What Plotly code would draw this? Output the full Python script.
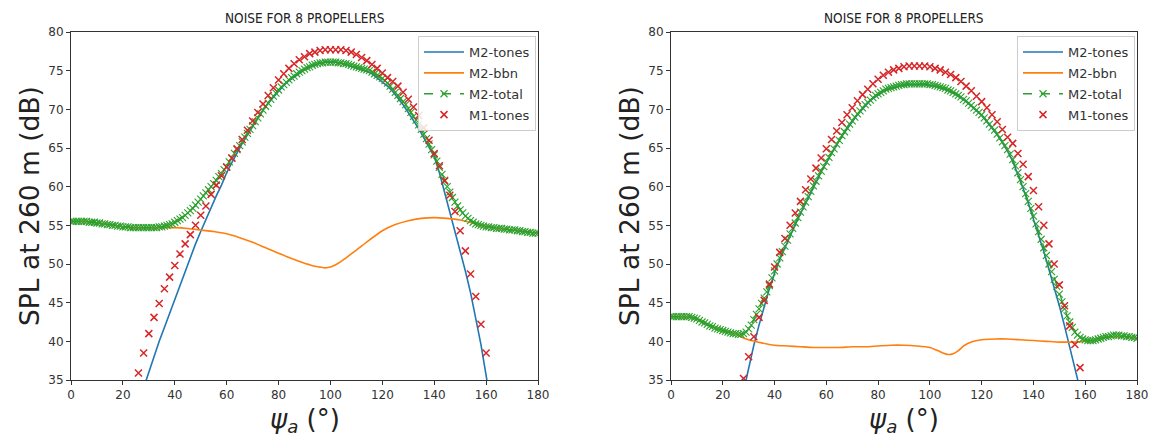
import plotly.graph_objects as go

# ---------------- data : left panel ----------------
ANG_TOTAL = list(range(0, 181))
L_TOTAL = [
    55.5, 55.5, 55.5, 55.5, 55.5, 55.5, 55.5, 55.4, 55.4, 55.4,
    55.3, 55.3, 55.2, 55.2, 55.1, 55.1, 55.0, 55.0, 54.9, 54.9,
    54.8, 54.8, 54.8, 54.7, 54.7, 54.7, 54.7, 54.7, 54.7, 54.7,
    54.7, 54.7, 54.7, 54.7, 54.8, 54.8, 54.9, 55.0, 55.1, 55.2,
    55.4, 55.6, 55.8, 56.0, 56.3, 56.6, 56.9, 57.2, 57.6, 58.0,
    58.4, 58.8, 59.2, 59.6, 60.0, 60.4, 60.8, 61.3, 61.7, 62.2,
    62.6, 63.2, 63.7, 64.3, 64.8, 65.3, 65.8, 66.4, 66.9, 67.4,
    67.9, 68.4, 68.9, 69.4, 69.9, 70.4, 70.8, 71.3, 71.7, 72.1,
    72.5, 72.9, 73.2, 73.5, 73.8, 74.1, 74.3, 74.6, 74.8, 75.0,
    75.2, 75.4, 75.5, 75.7, 75.8, 75.9, 76.0, 76.0, 76.1, 76.1,
    76.1, 76.1, 76.1, 76.0, 76.0, 75.9, 75.9, 75.8, 75.7, 75.6,
    75.5, 75.4, 75.3, 75.2, 75.1, 75.0, 74.8, 74.6, 74.4, 74.2,
    74.0, 73.7, 73.4, 73.0, 72.6, 72.2, 71.8, 71.4, 71.0, 70.6,
    70.1, 69.6, 69.1, 68.6, 68.0, 67.4, 66.8, 66.2, 65.5, 64.8,
    64.1, 63.3, 62.5, 61.6, 60.7, 60.0, 59.3, 58.6, 58.0, 57.5,
    57.0, 56.6, 56.2, 55.9, 55.6, 55.4, 55.2, 55.1, 55.0, 54.9,
    54.8, 54.8, 54.7, 54.7, 54.6, 54.6, 54.6, 54.5, 54.5, 54.4,
    54.4, 54.4, 54.3, 54.3, 54.2, 54.2, 54.1, 54.1, 54.0, 54.0, 54.0,
]

L_TONES_ANG = [28, 30, 32, 34, 36, 38, 40, 42, 44, 46, 48, 50, 52, 54, 56, 58,
               60, 62, 64, 66, 68, 70, 72, 74, 76, 78, 80, 82, 84, 86, 88, 90,
               92, 94, 96, 98, 100, 102, 104, 106, 108, 110, 112, 114, 116, 118,
               120, 122, 124, 126, 128, 130, 132, 134, 136, 138, 140, 142, 144,
               146, 148, 150, 152, 154, 156, 158, 160, 161]
L_TONES = [34.0, 36.1, 38.1, 40.0, 41.8, 43.6, 45.4, 47.3, 49.1, 50.9, 52.6, 54.2,
           55.8, 57.3, 58.8, 60.2, 61.8, 63.1, 64.4, 65.6, 66.7, 67.8, 68.9, 69.9,
           70.8, 71.6, 72.4, 73.1, 73.7, 74.2, 74.7, 75.1, 75.5, 75.8, 76.0, 76.1,
           76.1, 76.1, 76.0, 75.8, 75.6, 75.4, 75.2, 74.9, 74.6, 74.1, 73.6, 73.0,
           72.3, 71.5, 70.6, 69.6, 68.6, 67.5, 66.3, 65.0, 63.9, 61.8, 59.3, 56.6,
           54.1, 51.6, 49.1, 46.3, 43.1, 39.6, 35.6, 33.5]

L_BBN_ANG = [0, 5, 10, 15, 20, 25, 30, 35, 40, 45, 50, 55, 60, 65, 70, 75, 80, 85,
             90, 92, 94, 96, 98, 100, 102, 104, 106, 108, 110, 115, 120, 125, 130,
             135, 140, 145, 150, 155, 160, 165, 170, 175, 180]
L_BBN = [55.5, 55.5, 55.3, 55.1, 54.8, 54.7, 54.7, 54.7, 54.7, 54.6, 54.4, 54.2,
         53.9, 53.4, 52.8, 52.1, 51.4, 50.7, 50.1, 49.9, 49.7, 49.6, 49.5, 49.6,
         49.9, 50.3, 50.8, 51.3, 51.8, 53.1, 54.3, 55.1, 55.6, 55.9, 56.0, 55.9,
         55.7, 55.3, 54.9, 54.6, 54.4, 54.2, 54.0]

L_M1_ANG = list(range(26, 161, 2))
L_M1 = [35.9, 38.5, 41.0, 43.1, 44.9, 46.8, 48.3, 49.8, 51.3, 52.6, 53.8, 55.0,
        56.3, 57.5, 59.0, 60.2, 61.4, 62.5, 63.7, 64.9, 66.1, 67.3, 68.5, 69.6,
        70.7, 71.8, 72.8, 73.8, 74.6, 75.3, 75.9, 76.4, 76.8, 77.2, 77.4, 77.6,
        77.7, 77.7, 77.7, 77.7, 77.6, 77.4, 77.1, 76.7, 76.3, 75.8, 75.3, 74.7,
        74.1, 73.6, 73.0, 72.2, 71.3, 70.3, 69.2, 67.6, 66.0, 64.3, 62.7, 60.8,
        58.9, 56.8, 54.3, 51.7, 48.7, 45.8, 42.2, 38.5]

# ---------------- data : right panel ----------------
R_TOTAL = [
    43.2, 43.2, 43.2, 43.2, 43.2, 43.2, 43.2, 43.2, 43.1, 43.0,
    42.9, 42.7, 42.5, 42.4, 42.2, 42.0, 41.9, 41.7, 41.6, 41.5,
    41.4, 41.3, 41.2, 41.1, 41.0, 41.0, 40.9, 40.9, 41.0, 41.2,
    41.6, 42.1, 42.8, 43.5, 44.2, 44.9, 45.6, 46.4, 47.2, 48.2,
    49.1, 50.0, 50.8, 51.6, 52.3, 53.1, 53.9, 54.6, 55.3, 56.0,
    56.7, 57.4, 58.0, 58.7, 59.4, 60.1, 60.7, 61.4, 62.0, 62.6,
    63.2, 63.8, 64.4, 64.9, 65.5, 66.0, 66.6, 67.1, 67.6, 68.1,
    68.5, 69.0, 69.4, 69.8, 70.2, 70.6, 70.9, 71.2, 71.5, 71.8,
    72.0, 72.2, 72.4, 72.6, 72.7, 72.8, 72.9, 73.0, 73.1, 73.2,
    73.2, 73.3, 73.3, 73.3, 73.3, 73.3, 73.3, 73.3, 73.3, 73.3,
    73.2, 73.2, 73.1, 73.0, 72.9, 72.8, 72.7, 72.5, 72.4, 72.2,
    72.0, 71.8, 71.6, 71.3, 71.1, 70.8, 70.5, 70.2, 69.9, 69.6,
    69.3, 68.9, 68.5, 68.1, 67.7, 67.3, 66.8, 66.3, 65.8, 65.3,
    64.8, 64.2, 63.5, 62.7, 61.8, 60.9, 60.0, 59.1, 58.1, 57.2,
    56.2, 55.2, 54.2, 53.2, 52.1, 51.1, 50.0, 49.0, 48.0, 47.1,
    46.1, 45.1, 44.2, 43.3, 42.5, 41.8, 41.2, 40.8, 40.5, 40.3,
    40.2, 40.1, 40.1, 40.1, 40.2, 40.3, 40.4, 40.5, 40.6, 40.6,
    40.7, 40.8, 40.8, 40.8, 40.7, 40.7, 40.6, 40.6, 40.5, 40.5, 40.4,
]

R_TONES_ANG = [29, 30, 32, 34, 36, 38, 40, 42, 44, 46, 48, 50, 52, 54, 56, 58, 60,
               62, 64, 66, 68, 70, 72, 74, 76, 78, 80, 82, 84, 86, 88, 90, 92, 94,
               96, 98, 100, 102, 104, 106, 108, 110, 112, 114, 116, 118, 120, 122,
               124, 126, 128, 130, 132, 134, 136, 138, 140, 142, 144, 146, 148,
               150, 152, 154, 156, 158]
R_TONES = [35.0, 36.6, 39.5, 42.1, 44.6, 46.8, 48.8, 50.6, 52.1, 53.7, 55.1, 56.5,
           57.9, 59.3, 60.6, 61.9, 63.1, 64.3, 65.4, 66.5, 67.5, 68.4, 69.3, 70.1,
           70.8, 71.4, 71.9, 72.3, 72.6, 72.8, 73.0, 73.1, 73.2, 73.2, 73.2, 73.2,
           73.1, 73.0, 72.8, 72.6, 72.3, 71.9, 71.5, 71.0, 70.4, 69.8, 69.2, 68.4,
           67.6, 66.7, 65.7, 64.6, 63.3, 61.6, 59.8, 57.9, 55.9, 53.8, 51.6, 49.3,
           47.0, 44.6, 42.0, 39.3, 36.6, 33.8]

R_BBN_ANG = [0, 5, 10, 15, 20, 25, 27, 30, 35, 40, 45, 50, 55, 60, 65, 70, 75, 80,
             85, 90, 95, 100, 103, 105, 107, 109, 111, 113, 116, 120, 125, 130, 135,
             140, 145, 150, 155, 157, 160, 165, 170, 175, 180]
R_BBN = [43.2, 43.2, 42.9, 42.0, 41.4, 41.0, 40.6, 40.2, 39.8, 39.5, 39.4, 39.3,
         39.2, 39.2, 39.2, 39.3, 39.3, 39.4, 39.5, 39.5, 39.4, 39.2, 38.8, 38.5,
         38.3, 38.4, 38.8, 39.4, 39.9, 40.2, 40.3, 40.3, 40.2, 40.1, 40.0, 39.9,
         39.9, 39.9, 40.0, 40.3, 40.6, 40.6, 40.4]

R_M1_ANG = list(range(28, 159, 2))
R_M1 = [35.2, 38.0, 40.6, 43.1, 45.3, 47.4, 49.6, 51.5, 53.3, 55.0, 56.6, 58.1,
        59.6, 61.0, 62.4, 63.7, 64.9, 66.1, 67.2, 68.3, 69.3, 70.2, 71.1, 71.9,
        72.6, 73.3, 73.9, 74.4, 74.8, 75.1, 75.3, 75.5, 75.6, 75.6, 75.6, 75.6,
        75.5, 75.3, 75.1, 74.8, 74.5, 74.1, 73.6, 73.0, 72.4, 71.7, 71.0, 70.2,
        69.3, 68.4, 67.4, 66.4, 65.6, 64.3, 62.9, 61.3, 59.5, 57.4, 55.0, 52.6,
        50.0, 47.3, 44.6, 42.0, 39.6, 36.6]

TITLE = "NOISE FOR 8 PROPELLERS"
YLABEL = "SPL at 260 m (dB)"
XLABEL = "<i>ψ</i><sub><i>a</i></sub> (°)"
X_TICKS = [0, 20, 40, 60, 80, 100, 120, 140, 160, 180]
Y_TICKS = [35, 40, 45, 50, 55, 60, 65, 70, 75, 80]

BLUE, ORANGE, GREEN, RED = "#1f77b4", "#ff7f0e", "#2ca02c", "#d62728"
FONT = "DejaVu Sans"
FONT_NARROW = "DejaVu Sans Condensed, DejaVu Sans"

W, H = 1153, 439


def px_x(x):
    return x / W


def px_y(y):
    return (H - y) / H


fig = go.Figure()

panels = [
    dict(xa="x", ya="y", leg="legend", tag="L",
         tones=(L_TONES_ANG, L_TONES), bbn=(L_BBN_ANG, L_BBN),
         total=(ANG_TOTAL, L_TOTAL), m1=(L_M1_ANG, L_M1)),
    dict(xa="x2", ya="y2", leg="legend2", tag="R",
         tones=(R_TONES_ANG, R_TONES), bbn=(R_BBN_ANG, R_BBN),
         total=(ANG_TOTAL, R_TOTAL), m1=(R_M1_ANG, R_M1)),
]

for p in panels:
    common = dict(xaxis=p["xa"], yaxis=p["ya"], legend=p["leg"])
    fig.add_trace(go.Scatter(x=p["tones"][0], y=p["tones"][1], mode="lines",
                             name="M2-tones", legendgroup=p["tag"] + "1",
                             line=dict(color=BLUE, width=1.6), **common))
    fig.add_trace(go.Scatter(x=p["bbn"][0], y=p["bbn"][1], mode="lines",
                             name="M2-bbn", legendgroup=p["tag"] + "2",
                             line=dict(color=ORANGE, width=1.6,
                                       shape="spline", smoothing=0.6), **common))
    fig.add_trace(go.Scatter(x=p["total"][0], y=p["total"][1], mode="lines+markers",
                             name="M2-total", legendgroup=p["tag"] + "3",
                             line=dict(color=GREEN, width=1.4, dash="dash"),
                             marker=dict(symbol="x-thin", size=7, color=GREEN,
                                         line=dict(color=GREEN, width=1.1)),
                             **common))
    fig.add_trace(go.Scatter(x=p["m1"][0], y=p["m1"][1], mode="markers",
                             name="M1-tones", legendgroup=p["tag"] + "4",
                             marker=dict(symbol="x-thin", size=7, color=RED,
                                         line=dict(color=RED, width=1.5)),
                             **common))

XD1 = [px_x(71), px_x(538)]
XD2 = [px_x(671), px_x(1137)]
YD = [px_y(380), px_y(32)]

axis_common = dict(showline=True, linecolor="#333333", linewidth=1, mirror=True,
                   ticks="outside", ticklen=4, tickcolor="#333333", tickwidth=1,
                   showgrid=False, zeroline=False, automargin=False,
                   tickfont=dict(family=FONT, size=12, color="#333333"))

legend_common = dict(font=dict(family=FONT, size=13, color="#333333"),
                     bgcolor="rgba(255,255,255,0.85)", bordercolor="#cccccc",
                     borderwidth=1, xanchor="right", yanchor="top",
                     tracegroupgap=1, itemwidth=40)

fig.update_layout(
    width=W, height=H, autosize=False, margin=dict(l=0, r=0, t=0, b=0, pad=0),
    paper_bgcolor="white", plot_bgcolor="white",
    font=dict(family=FONT, color="#333333"),
    xaxis=dict(domain=XD1, range=[0, 180], tickvals=X_TICKS, anchor="y", **axis_common),
    yaxis=dict(domain=YD, range=[35, 80], tickvals=Y_TICKS, anchor="x", **axis_common),
    xaxis2=dict(domain=XD2, range=[0, 180], tickvals=X_TICKS, anchor="y2", **axis_common),
    yaxis2=dict(domain=YD, range=[35, 80], tickvals=Y_TICKS, anchor="x2", **axis_common),
    legend=dict(x=px_x(536), y=px_y(36), **legend_common),
    legend2=dict(x=px_x(1135), y=px_y(36), **legend_common),
    showlegend=True,
)

annotations = []
for xd, axis_left in ((XD1, 71), (XD2, 671)):
    cx = (xd[0] + xd[1]) / 2
    annotations.append(dict(text=TITLE, x=cx, y=px_y(18), xref="paper", yref="paper",
                            showarrow=False, xanchor="center", yanchor="middle",
                            font=dict(family=FONT_NARROW, size=13.5, color="#222222")))
    annotations.append(dict(text=XLABEL, x=cx, y=px_y(420), xref="paper", yref="paper",
                            showarrow=False, xanchor="center", yanchor="middle",
                            font=dict(family=FONT, size=26, color="#222222")))
    annotations.append(dict(text=YLABEL, x=px_x(axis_left - 42), y=(YD[0] + YD[1]) / 2,
                            xref="paper", yref="paper", textangle=-90,
                            showarrow=False, xanchor="center", yanchor="middle",
                            font=dict(family=FONT, size=26.5, color="#222222")))
fig.update_layout(annotations=annotations)

# remove the default 8 px page margin so the figure fills the window exactly
fig.write_html("out.html",
               config={"displayModeBar": False},
               post_script="document.body.style.margin='0px';"
                           "document.body.style.overflow='hidden';")
